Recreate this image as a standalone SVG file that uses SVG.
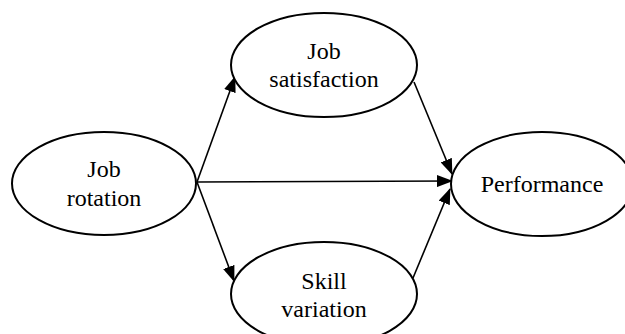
<svg xmlns="http://www.w3.org/2000/svg" width="625" height="334" viewBox="0 0 625 334">
<style>
.n ellipse{fill:#fff;stroke:#000;stroke-width:2}
.n text{font-family:"Liberation Serif","Times New Roman",serif;font-size:24px;fill:#000;text-anchor:middle}
.c line{stroke:#000;stroke-width:1.6;marker-end:url(#ah)}
</style>
<defs>
<marker id="ah" markerWidth="16" markerHeight="12" refX="15" refY="6" orient="auto" markerUnits="userSpaceOnUse">
<path d="M0,0 L16,6 L0,12 Z" fill="#000"/>
</marker>
</defs>
<rect width="625" height="334" fill="#fff"/>
<g class="c" id="connectors">
<line x1="197" y1="182" x2="235" y2="77"/>
<line x1="197" y1="182" x2="452" y2="181"/>
<line x1="197" y1="182" x2="234" y2="281"/>
<line x1="414" y1="82" x2="452" y2="174"/>
<line x1="413" y1="278" x2="450" y2="189"/>
</g>
<g class="n" id="job-rotation">
<ellipse cx="104" cy="183.5" rx="92" ry="51.5"/>
<text x="104" y="177">Job</text>
<text x="104" y="206">rotation</text>
</g>
<g class="n" id="job-satisfaction">
<ellipse cx="324" cy="65" rx="93" ry="52"/>
<text x="324" y="59">Job</text>
<text x="324" y="87">satisfaction</text>
</g>
<g class="n" id="skill-variation">
<ellipse cx="324" cy="294" rx="93" ry="52"/>
<text x="324" y="289">Skill</text>
<text x="324" y="317">variation</text>
</g>
<g class="n" id="performance">
<ellipse cx="542" cy="184" rx="91" ry="52"/>
<text x="542" y="192">Performance</text>
</g>
</svg>
